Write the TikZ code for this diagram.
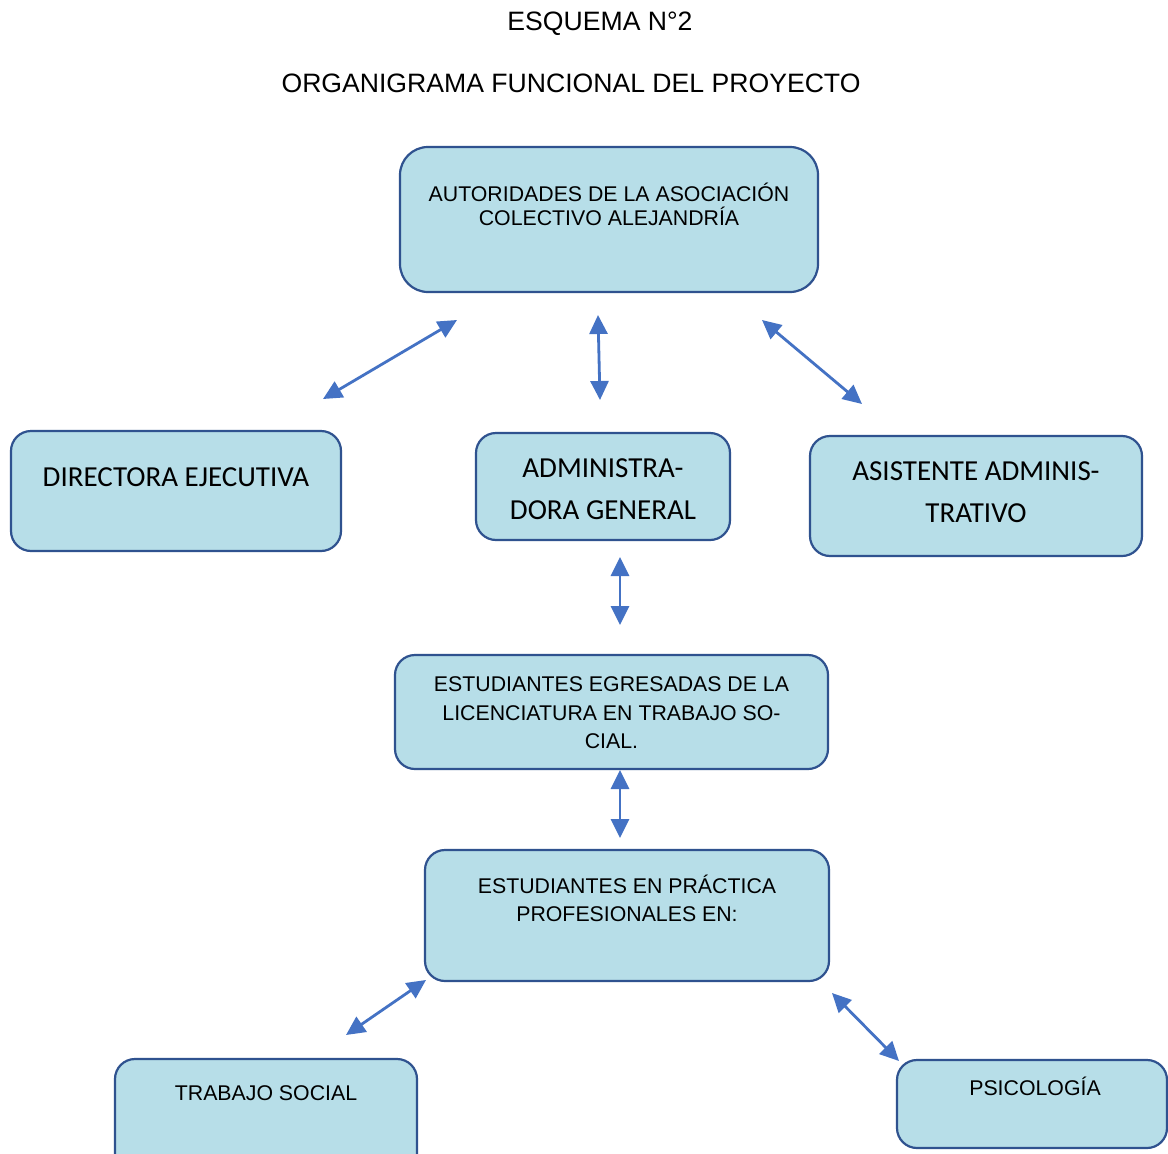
\documentclass[tikz,border=0pt]{standalone}
\usepackage{fontspec}
\setmainfont{Liberation Sans}
\newfontfamily\calib{Carlito}
\usetikzlibrary{arrows.meta}
\definecolor{boxfill}{HTML}{B7DEE8}
\definecolor{boxline}{HTML}{2F528F}
\definecolor{arr}{HTML}{4472C4}
\newcommand\bxt[5]{\parbox[c][#2][t]{#1}{#4\centering\vspace*{\dimexpr #3-30pt\relax}\rule{0pt}{30pt}#5\par}}
\newcommand\arfont{\fontsize{21.3}{28.5}\selectfont}
\newcommand\cafont{\calib\fontsize{29}{42}\selectfont}
\begin{document}
\begin{tikzpicture}[x=1pt,y=-1pt,
  box/.style={draw=boxline, fill=boxfill, line width=2.2pt, rounded corners=20pt, inner sep=0pt},
  link/.style={arr, line width=2.8pt, {Triangle[length=19pt 0,width=18pt 0]}-{Triangle[length=19pt 0,width=18pt 0]}},
  ttl/.style={anchor=base, inner sep=0pt, font=\fontsize{26.6}{30}\selectfont}]
\useasboundingbox (0,0) rectangle (1168,1154);
\fill[white] (0,0) rectangle (1168,1154);

\node[ttl] (t1) at (600,30.5) {ESQUEMA N°2};
\node[ttl] (t2) at (571,92.5) {ORGANIGRAMA FUNCIONAL DEL PROYECTO};

\node[box, rounded corners=28pt] (aut) at (609,219.5)
  {\bxt{418pt}{145pt}{54.6pt}{\fontsize{21.3}{24}\selectfont}{AUTORIDADES DE LA ASOCIACIÓN\\COLECTIVO ALEJANDRÍA}};
\node[box] (dir) at (176,491)
  {\bxt{330pt}{120pt}{55.4pt}{\cafont}{DIRECTORA EJECUTIVA}};
\node[box] (adm) at (603,486.5)
  {\bxt{254pt}{107pt}{44.4pt}{\cafont}{ADMINISTRA-\\DORA GENERAL}};
\node[box] (asi) at (976,496)
  {\bxt{332pt}{120pt}{44.4pt}{\cafont}{ASISTENTE ADMINIS-\\TRATIVO}};
\node[box] (egr) at (611.5,712)
  {\bxt{433pt}{114pt}{36.6pt}{\arfont}{ESTUDIANTES EGRESADAS DE LA\\LICENCIATURA EN TRABAJO SO-\\CIAL.}};
\node[box] (pra) at (627,915.5)
  {\bxt{404pt}{131pt}{43.6pt}{\fontsize{21.3}{28}\selectfont}{ESTUDIANTES EN PRÁCTICA\\PROFESIONALES EN:}};
\node[box] (ts) at (266,1117)
  {\bxt{302pt}{116pt}{41.6pt}{\arfont}{TRABAJO SOCIAL}};
\node[box] (psi) at (1032,1104)
  {\bxt{270pt}{88pt}{35.6pt}{\arfont}{\hspace*{6pt}PSICOLOGÍA}};

\coordinate (a1s) at (323,399); \coordinate (a1e) at (457,320);
\coordinate (a2s) at (598,315); \coordinate (a2e) at (600,400);
\coordinate (a3s) at (762,320); \coordinate (a3e) at (862,404);
\coordinate (a4s) at (620,557); \coordinate (a4e) at (620,625);
\coordinate (a5s) at (620,770); \coordinate (a5e) at (620,838);
\coordinate (a6s) at (346,1035); \coordinate (a6e) at (426,980);
\coordinate (a7s) at (832,993); \coordinate (a7e) at (899,1061);

\draw[link] (a1s) -- (a1e);
\draw[link] (a2s) -- (a2e);
\draw[link] (a3s) -- (a3e);
\draw[link] (a4s) -- (a4e);
\draw[link] (a5s) -- (a5e);
\draw[link] (a6s) -- (a6e);
\draw[link] (a7s) -- (a7e);
\end{tikzpicture}
\end{document}
